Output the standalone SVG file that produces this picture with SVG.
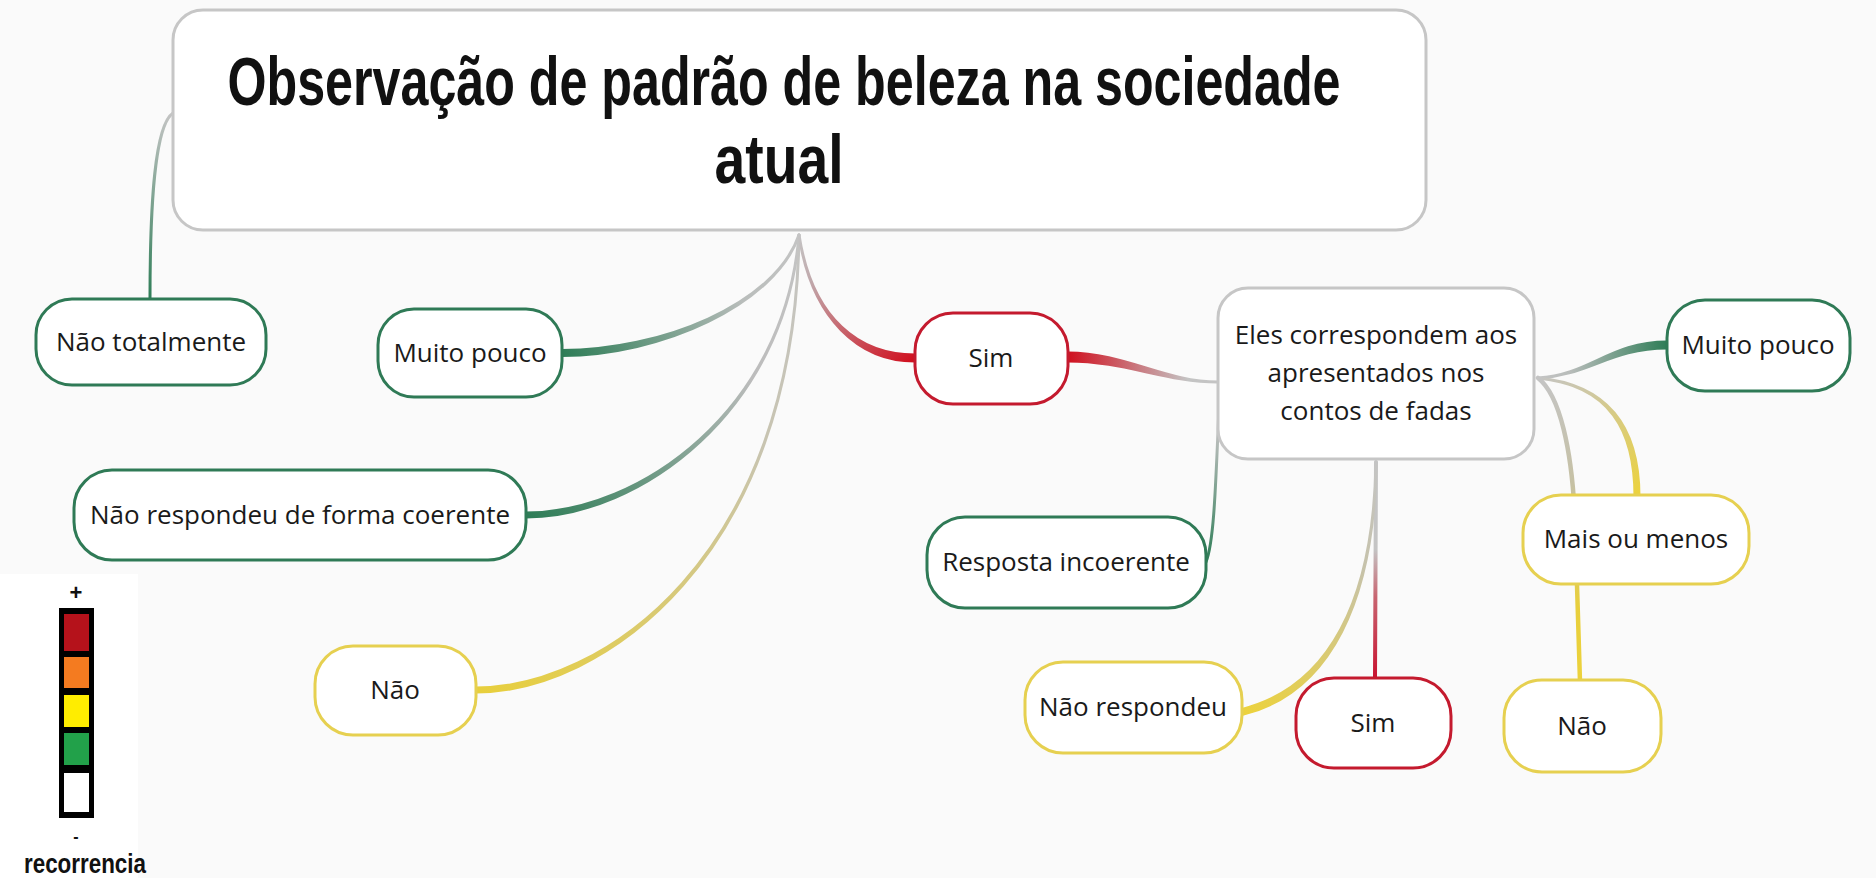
<svg xmlns="http://www.w3.org/2000/svg" width="1876" height="878" viewBox="0 0 1876 878">
<style>
.node rect{fill:#ffffff;stroke-width:3}
.g rect{stroke:#2f7a56}
.r rect{stroke:#c41a2e}
.y rect{stroke:#e6d050}
.k rect{stroke:#c6c6c6}
.lbl{font-family:"Open Sans","Liberation Sans",sans-serif;font-size:26px;fill:#1a1a1a;text-anchor:middle}
.title{font-family:"Liberation Sans Narrow","Liberation Sans",Arial,sans-serif;font-weight:700;font-size:68px;fill:#111;text-anchor:middle}
.leg{font-family:"Liberation Sans",Arial,sans-serif;fill:#111;text-anchor:middle}
</style>
<defs>
<linearGradient id="gMPL" gradientUnits="userSpaceOnUse" x1="799" y1="235" x2="562" y2="353"><stop offset="0" stop-color="#c4c4c4"/><stop offset="0.3" stop-color="#b9bdbb"/><stop offset="1" stop-color="#2e7d57"/></linearGradient>
<linearGradient id="gNRD" gradientUnits="userSpaceOnUse" x1="799" y1="235" x2="526" y2="515"><stop offset="0" stop-color="#c4c4c4"/><stop offset="0.35" stop-color="#bcbcbc"/><stop offset="1" stop-color="#2e7d57"/></linearGradient>
<linearGradient id="gNL" gradientUnits="userSpaceOnUse" x1="799" y1="235" x2="476" y2="690"><stop offset="0" stop-color="#c4c4c4"/><stop offset="0.35" stop-color="#c8c4b0"/><stop offset="1" stop-color="#e8cf3c"/></linearGradient>
<linearGradient id="gSim" gradientUnits="userSpaceOnUse" x1="799" y1="235" x2="915" y2="358"><stop offset="0" stop-color="#c4c4c4"/><stop offset="0.25" stop-color="#c0a8ab"/><stop offset="1" stop-color="#d0101f"/></linearGradient>
<linearGradient id="gNT" gradientUnits="userSpaceOnUse" x1="0" y1="113" x2="0" y2="299"><stop offset="0" stop-color="#c4c4c4"/><stop offset="1" stop-color="#2e7d57"/></linearGradient>
<linearGradient id="gSE" gradientUnits="userSpaceOnUse" x1="1218" y1="0" x2="1068" y2="0"><stop offset="0" stop-color="#c4c4c4"/><stop offset="0.2" stop-color="#c4c4c4"/><stop offset="1" stop-color="#d0101f"/></linearGradient>
<linearGradient id="gRI" gradientUnits="userSpaceOnUse" x1="0" y1="385" x2="0" y2="562"><stop offset="0" stop-color="#c4c4c4"/><stop offset="0.3" stop-color="#b8bcba"/><stop offset="1" stop-color="#2e7d57"/></linearGradient>
<linearGradient id="gMPR" gradientUnits="userSpaceOnUse" x1="1538" y1="0" x2="1667" y2="0"><stop offset="0" stop-color="#c4c4c4"/><stop offset="0.25" stop-color="#b8bcba"/><stop offset="1" stop-color="#2e7d57"/></linearGradient>
<linearGradient id="gMM" gradientUnits="userSpaceOnUse" x1="1538" y1="378" x2="1637" y2="497"><stop offset="0" stop-color="#c4c4c4"/><stop offset="0.3" stop-color="#cfc8a0"/><stop offset="1" stop-color="#ecd23c"/></linearGradient>
<linearGradient id="gNR" gradientUnits="userSpaceOnUse" x1="0" y1="378" x2="0" y2="682"><stop offset="0" stop-color="#c4c4c4"/><stop offset="0.35" stop-color="#c6c1a4"/><stop offset="0.75" stop-color="#e8cf3c"/><stop offset="1" stop-color="#ecd23c"/></linearGradient>
<linearGradient id="gSB" gradientUnits="userSpaceOnUse" x1="0" y1="462" x2="0" y2="680"><stop offset="0" stop-color="#c4c4c4"/><stop offset="0.4" stop-color="#c4c4c4"/><stop offset="0.62" stop-color="#c86470"/><stop offset="1" stop-color="#c8102e"/></linearGradient>
<linearGradient id="gNRe" gradientUnits="userSpaceOnUse" x1="1376" y1="462" x2="1242" y2="712"><stop offset="0" stop-color="#c4c4c4"/><stop offset="0.35" stop-color="#c6c2aa"/><stop offset="1" stop-color="#ecd23c"/></linearGradient>
</defs>
<rect x="0" y="0" width="1876" height="878" fill="#fafafa"/>

<g id="connectors" stroke-linejoin="round" stroke-linecap="round">
<path d="M799,235 C775,305 660,350.5 562,350.5 L562,355.5 C660,355.5 775,305 799,235 Z" fill="url(#gMPL)" stroke="url(#gMPL)" stroke-width="3"/>
<path d="M799,235 C785,410 640,513 526,513 L526,517 C640,517 785,410 799,235 Z" fill="url(#gNRD)" stroke="url(#gNRD)" stroke-width="3"/>
<path d="M799,235 C795,560 600,688 476,688 L476,692 C600,692 795,560 799,235 Z" fill="url(#gNL)" stroke="url(#gNL)" stroke-width="3"/>
<path d="M799,235 C812,320 860,355 915,355 L915,361 C860,361 812,320 799,235 Z" fill="url(#gSim)" stroke="url(#gSim)" stroke-width="3"/>
<path d="M173,113 C155,125 150,200 150,299" fill="none" stroke="url(#gNT)" stroke-width="3"/>
<path d="M1218,382 C1165,382 1125,353 1068,353 L1068,361 C1125,361 1165,382 1218,382 Z" fill="url(#gSE)" stroke="url(#gSE)" stroke-width="3"/>
<path d="M1220,385 C1216,470 1215,540 1206,562" fill="none" stroke="url(#gRI)" stroke-width="3"/>
<path d="M1538,378 C1590,375 1610,342 1667,342 L1667,348 C1610,348 1590,375 1538,378 Z" fill="url(#gMPR)" stroke="url(#gMPR)" stroke-width="3"/>
<path d="M1538,378 C1610,385 1635,430 1635,497 L1639,497 C1639,430 1610,385 1538,378 Z" fill="url(#gMM)" stroke="url(#gMM)" stroke-width="3"/>
<path d="M1538,378 C1560,395 1572,450 1575,520 L1580,682" fill="none" stroke="url(#gNR)" stroke-width="4.5"/>
<path d="M1376,462 L1375,680" fill="none" stroke="url(#gSB)" stroke-width="4"/>
<path d="M1376,462 C1374,600 1329.4,687.6 1241.4,709.6 L1242.6,714.4 C1330.6,692.4 1374,600 1376,462 Z" fill="url(#gNRe)" stroke="url(#gNRe)" stroke-width="3"/>
</g>

<g id="root" class="node k">
<rect x="173" y="10" width="1253" height="220" rx="30"/>
<text class="title"><tspan x="784" y="105" textLength="1113" lengthAdjust="spacingAndGlyphs">Observação de padrão de beleza na sociedade</tspan><tspan x="779" y="183" textLength="129" lengthAdjust="spacingAndGlyphs">atual</tspan></text>
</g>
<g id="n-nao-totalmente" class="node g"><rect x="36" y="299" width="230" height="86" rx="36"/><text class="lbl" x="151" y="351">Não totalmente</text></g>
<g id="n-muito-pouco-1" class="node g"><rect x="378" y="309" width="184" height="88" rx="36"/><text class="lbl" x="470" y="362">Muito pouco</text></g>
<g id="n-nao-respondeu-coerente" class="node g"><rect x="74" y="470" width="452" height="90" rx="38"/><text class="lbl" x="300" y="524">Não respondeu de forma coerente</text></g>
<g id="n-nao-1" class="node y"><rect x="315" y="646" width="161" height="89" rx="38"/><text class="lbl" x="395" y="699">Não</text></g>
<g id="n-sim-1" class="node r"><rect x="915" y="313" width="153" height="91" rx="38"/><text class="lbl" x="991" y="367">Sim</text></g>
<g id="n-eles" class="node k"><rect x="1218" y="288" width="316" height="171" rx="30"/>
<text class="lbl" x="1376" y="344">Eles correspondem aos</text>
<text class="lbl" x="1376" y="382">apresentados nos</text>
<text class="lbl" x="1376" y="420">contos de fadas</text></g>
<g id="n-muito-pouco-2" class="node g"><rect x="1667" y="300" width="183" height="91" rx="38"/><text class="lbl" x="1758" y="354">Muito pouco</text></g>
<g id="n-resposta-incoerente" class="node g"><rect x="927" y="517" width="279" height="91" rx="38"/><text class="lbl" x="1066" y="571">Resposta incoerente</text></g>
<g id="n-mais-ou-menos" class="node y"><rect x="1523" y="495" width="226" height="89" rx="38"/><text class="lbl" x="1636" y="548">Mais ou menos</text></g>
<g id="n-nao-respondeu" class="node y"><rect x="1025" y="662" width="217" height="91" rx="38"/><text class="lbl" x="1133" y="716">Não respondeu</text></g>
<g id="n-sim-2" class="node r"><rect x="1296" y="678" width="155" height="90" rx="38"/><text class="lbl" x="1373" y="732">Sim</text></g>
<g id="n-nao-2" class="node y"><rect x="1504" y="680" width="157" height="92" rx="38"/><text class="lbl" x="1582" y="735">Não</text></g>

<g id="legend">
<rect x="0" y="574" width="138" height="304" fill="#ffffff"/>
<text class="leg" x="76" y="600" font-size="22" font-weight="700">+</text>
<rect x="59" y="608" width="35" height="210" fill="#000"/>
<rect x="64" y="614" width="25" height="37" fill="#b5121b"/>
<rect x="64" y="657" width="25" height="31" fill="#f47b20"/>
<rect x="64" y="695" width="25" height="32" fill="#ffed00"/>
<rect x="64" y="733" width="25" height="32" fill="#22a14a"/>
<rect x="64" y="773" width="25" height="39" fill="#ffffff"/>
<text class="leg" x="76" y="842" font-size="16" font-weight="700">-</text>
<text class="leg" x="85" y="873" font-size="28" font-weight="700" textLength="122" lengthAdjust="spacingAndGlyphs">recorrencia</text>
</g>
</svg>
